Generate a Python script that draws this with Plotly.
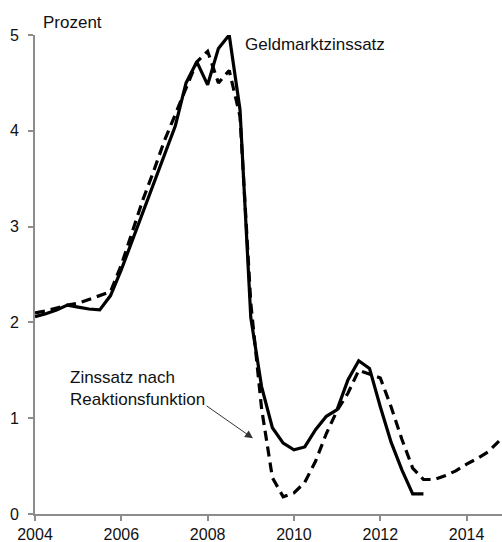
import plotly.graph_objects as go

# Quarterly observations, 2004Q1 onwards (decimal year of quarter start)
quarters_geld = [2004 + k / 4 for k in range(37)]          # 2004.00 .. 2013.00
quarters_reakt = [2004 + k / 4 for k in range(44)]         # 2004.00 .. 2014.75

# Geldmarktzinssatz (percent)
geldmarkt = [
    2.06, 2.09, 2.13, 2.18, 2.16, 2.14, 2.13, 2.28,
    2.55, 2.85, 3.15, 3.45, 3.75, 4.05, 4.50, 4.72,
    4.48, 4.86, 5.00, 4.22, 2.05, 1.33, 0.90, 0.74,
    0.67, 0.70, 0.88, 1.02, 1.09, 1.40, 1.60, 1.52,
    1.12, 0.75, 0.46, 0.21, 0.21,
]

# Zinssatz nach Reaktionsfunktion (percent)
reaktion = [
    2.10, 2.12, 2.15, 2.18, 2.20, 2.24, 2.28, 2.32,
    2.60, 2.95, 3.28, 3.58, 3.90, 4.17, 4.45, 4.72,
    4.83, 4.50, 4.63, 4.15, 2.20, 1.10, 0.38, 0.18,
    0.22, 0.33, 0.55, 0.84, 1.08, 1.26, 1.50, 1.46,
    1.42, 1.12, 0.78, 0.48, 0.36, 0.36, 0.40, 0.45,
    0.52, 0.58, 0.65, 0.76,
]

year_ticks = [2004, 2006, 2008, 2010, 2012, 2014]
pct_ticks = [0, 1, 2, 3, 4, 5]

FONT = "Liberation Sans, Arial, sans-serif"
AXIS_GREY = "#8c8c8c"
INK = "#111111"

W, H = 502, 542
M_L, M_R, M_T, M_B = 35, 0, 35, 28
PLOT_W, PLOT_H = W - M_L - M_R, H - M_T - M_B

fig = go.Figure()

fig.add_trace(go.Scatter(
    x=quarters_geld, y=geldmarkt, mode="lines",
    line=dict(color="black", width=3.2),
    cliponaxis=False, name="Geldmarktzinssatz", showlegend=False,
))
fig.add_trace(go.Scatter(
    x=quarters_reakt, y=reaktion, mode="lines",
    line=dict(color="black", width=3.2, dash="10px,6px"),
    cliponaxis=False, name="Zinssatz nach Reaktionsfunktion", showlegend=False,
))

# Series labels
fig.add_annotation(
    x=2008.82, y=4.9, xref="x", yref="y", text="Geldmarktzinssatz",
    showarrow=False, xanchor="left", yanchor="middle",
    font=dict(family=FONT, size=17, color=INK),
)
fig.add_annotation(
    x=2004.76, y=1.31, xref="x", yref="y",
    text="Zinssatz nach<br>Reaktionsfunktion", align="left",
    showarrow=False, xanchor="left", yanchor="middle",
    font=dict(family=FONT, size=17, color=INK),
)
# Pointer to the dashed series
fig.add_annotation(
    x=2009.05, y=0.79, xref="x", yref="y",
    ax=2007.94, ay=1.14, axref="x", ayref="y",
    text="", showarrow=True, arrowhead=2, arrowsize=1.6,
    arrowwidth=1, arrowcolor="#333333",
)
# Unit label above the y axis
fig.add_annotation(
    x=(41 - M_L) / PLOT_W, y=1 + (M_T - 22) / PLOT_H,
    xref="paper", yref="paper", text="Prozent",
    showarrow=False, xanchor="left", yanchor="middle",
    font=dict(family=FONT, size=17, color=INK),
)

fig.update_layout(
    width=W, height=H,
    margin=dict(l=M_L, r=M_R, t=M_T, b=M_B),
    paper_bgcolor="white", plot_bgcolor="white",
    font=dict(family=FONT, size=16, color=INK),
    showlegend=False,
    xaxis=dict(
        range=[2004, 2014.82], tickmode="array", tickvals=year_ticks,
        ticktext=[str(v) for v in year_ticks],
        showgrid=False, zeroline=False, automargin=False,
        showline=True, linecolor=AXIS_GREY, linewidth=2,
        ticks="outside", ticklen=5, tickwidth=2, tickcolor=AXIS_GREY,
        ticklabelstandoff=0,
        tickfont=dict(family=FONT, size=16, color=INK),
    ),
    yaxis=dict(
        range=[0, 5], tickmode="array", tickvals=pct_ticks,
        showgrid=False, zeroline=False, automargin=False,
        showline=True, linecolor=AXIS_GREY, linewidth=2,
        ticks="outside", ticklen=5, tickwidth=2, tickcolor=AXIS_GREY,
        ticklabelstandoff=6,
        tickfont=dict(family=FONT, size=16, color=INK),
    ),
)

fig.write_html("out.html")
